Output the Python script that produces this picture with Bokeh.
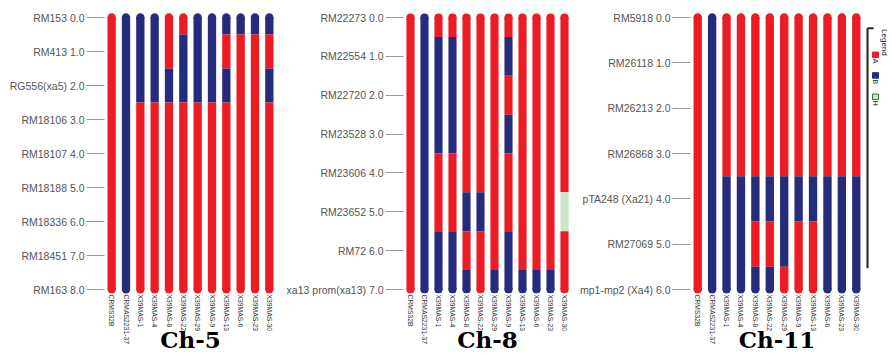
import math
from bokeh.plotting import figure
from bokeh.layouts import row
from bokeh.models import Range1d, FactorRange, FixedTicker
from bokeh.core.properties import value
from bokeh.embed import file_html
from bokeh.resources import INLINE

# ---------------- data ----------------
samples = ["CRMS32B", "CRMAS2231-37", "X39MAS-1", "X39MAS-4", "X39MAS-8", "X39MAS-22",
           "X39MAS-29", "X39MAS-9", "X39MAS-13", "X39MAS-6", "X39MAS-23", "X39MAS-30"]

ch5_markers = ["RM153", "RM413", "RG556(xa5)", "RM18106", "RM18107", "RM18188",
               "RM18336", "RM18451", "RM163"]
ch5_pos = [0.0, 1.0, 2.0, 3.0, 4.0, 5.0, 6.0, 7.0, 8.0]
ch5_geno = ["AAAAAAAAA", "BBBBBBBBB", "BBBAAAAAA", "BBBAAAAAA", "AABAAAAAA", "ABBAAAAAA",
            "BBBAAAAAA", "BBBAAAAAA", "BABAAAAAA", "BAAAAAAAA", "BAAAAAAAA", "BABAAAAAA"]

ch8_markers = ["RM22273", "RM22554", "RM22720", "RM23528", "RM23606", "RM23652",
               "RM72", "xa13 prom(xa13)"]
ch8_pos = [0.0, 1.0, 2.0, 3.0, 4.0, 5.0, 6.0, 7.0]
ch8_geno = ["AAAAAAAA", "BBBBBBBB", "ABBBAABB", "ABBBAABB", "AAAAABAB", "AAAAABAA",
            "AAAAAAAB", "ABABAABB", "AAAAAAAB", "AAAAAAAB", "AAAAAAAB", "AAAAAHAA"]

ch11_markers = ["RM5918", "RM26118", "RM26213", "RM26868", "pTA248 (Xa21)",
                "RM27069", "mp1-mp2 (Xa4)"]
ch11_pos = [0.0, 1.0, 2.0, 3.0, 4.0, 5.0, 6.0]
ch11_geno = ["AAAAAAA", "BBBBBBB", "AAAABBB", "AAAABBB", "AAAABAB", "AAAABAB",
             "AAAABBA", "AAAABAA", "AAAABAA", "AAAABBB", "AAAABBB", "AAAABBB"]

legend_title = "Legend"
legend_keys = ["A", "B", "H"]
COLORS = {"A": "#EC1C24", "B": "#252C7C", "H": "#C9E6CA"}

# ---------------- layout ----------------
H = 355
BORDER_TOP = 12
BORDER_BOTTOM = 62
BAR_W = 0.58
SPAN_PX = 272.0      # pixels from first to last marker
PAD_TOP_PX = 5.0
PAD_BOT_PX = 4.0


def panel(title, markers, pos, geno, width, left, frame_w, right):
    span = pos[-1] - pos[0]
    k = SPAN_PX / span  # px per unit
    p = figure(width=width, height=H,
               x_range=FactorRange(*samples),
               y_range=Range1d(pos[-1] + PAD_BOT_PX / k, pos[0] - PAD_TOP_PX / k),
               output_backend="svg", toolbar_location=None,
               min_border_left=left, min_border_right=right,
               min_border_top=BORDER_TOP, min_border_bottom=BORDER_BOTTOM)
    p.xgrid.visible = False
    p.ygrid.visible = False
    p.outline_line_color = None
    p.background_fill_color = "white"

    xs, tops, bots, cols = [], [], [], []
    n = len(pos)
    for s, g in zip(samples, geno):
        start = 0
        for i in range(1, n + 1):
            if i == n or g[i] != g[start]:
                y0 = pos[0] if start == 0 else (pos[start - 1] + pos[start]) / 2
                y1 = pos[-1] if i == n else (pos[i - 1] + pos[i]) / 2
                xs.append(s)
                tops.append(y0)
                bots.append(y1)
                cols.append(COLORS[g[start]])
                start = i
    p.vbar(x=xs, top=tops, bottom=bots, width=BAR_W, fill_color=cols, line_color=None)

    cap = BAR_W * frame_w / len(samples)
    p.scatter(x=samples, y=[pos[0]] * len(samples), size=cap, marker="circle",
              fill_color=[COLORS[g[0]] for g in geno], line_color=None)
    p.scatter(x=samples, y=[pos[-1]] * len(samples), size=cap, marker="circle",
              fill_color=[COLORS[g[-1]] for g in geno], line_color=None)

    ya = p.yaxis[0]
    ya.ticker = FixedTicker(ticks=pos, minor_ticks=[])
    ya.major_label_overrides = {v: f"{m} {v:.1f}" for m, v in zip(markers, pos)}
    ya.axis_line_color = None
    ya.major_tick_line_color = "#9a9a9a"
    ya.major_tick_out = 18
    ya.major_tick_in = 0
    ya.major_label_standoff = 2
    ya.major_label_text_font = "Liberation Sans"
    ya.major_label_text_font_size = "10.5px"
    ya.major_label_text_color = "#555555"

    xa = p.xaxis[0]
    xa.axis_line_color = None
    xa.major_tick_line_color = None
    xa.minor_tick_line_color = None
    xa.major_tick_out = 0
    xa.major_label_orientation = -math.pi / 2
    xa.major_label_text_font = "Liberation Sans"
    xa.major_label_text_font_size = "6.8px"
    xa.major_label_text_color = "#333333"
    xa.major_label_standoff = 1
    xa.axis_label = title
    xa.axis_label_text_font = "DejaVu Serif"
    xa.axis_label_text_font_style = "bold"
    xa.axis_label_text_font_size = "23px"
    xa.axis_label_text_color = "#000000"
    xa.axis_label_standoff = -21
    return p


p1 = panel("Ch-5", ch5_markers, ch5_pos, ch5_geno, 283, 104, 172, 7)
p2 = panel("Ch-8", ch8_markers, ch8_pos, ch8_geno, 292, 118, 170, 4)
p3 = panel("Ch-11", ch11_markers, ch11_pos, ch11_geno, 289, 115, 173, 1)

# legend (rotated), in its own small pixel-unit figure
LW = 28
lg = figure(width=LW, height=H, x_range=Range1d(0, LW), y_range=Range1d(H, 0),
            output_backend="svg", toolbar_location=None, min_border=0,
            x_axis_location=None, y_axis_location=None)
lg.xgrid.visible = False
lg.ygrid.visible = False
lg.outline_line_color = None
lg.segment(x0=[3, 3], y0=[20, 20], x1=[3, 9], y1=[323, 20], line_color="#222222", line_width=2)
lg.text(x=[20], y=[21], text=[legend_title], angle=-math.pi / 2, text_align="left",
        text_baseline="middle", text_font=value("Liberation Sans"), text_font_size="8px",
        text_color="#222222")
sw_y = [53.5, 79.5, 106.5]
lg.rect(x=[11] * 3, y=sw_y, width=6, height=7,
        fill_color=[COLORS[k] for k in legend_keys],
        line_color=["#EC1C24", "#252C7C", "#3a6b3a"], line_width=1)
lg.text(x=[11] * 3, y=[y + 5 for y in sw_y], text=legend_keys, angle=-math.pi / 2,
        text_align="left", text_baseline="middle", text_font=value("Liberation Sans"),
        text_font_size="7px", text_color="#222222")

layout = row(p1, p2, p3, lg)
open("out.html", "w").write(file_html(layout, INLINE))
